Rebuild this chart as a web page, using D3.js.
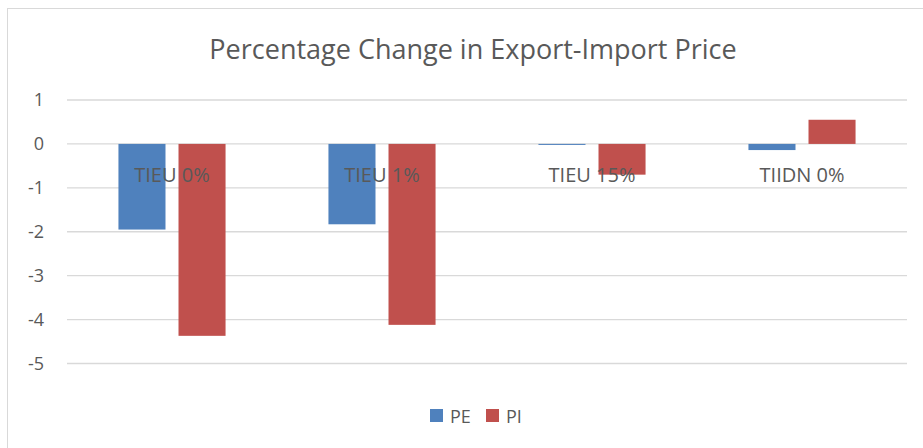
<!DOCTYPE html>
<html lang="en">
<head>
  <meta charset="UTF-8">
  <title>Percentage Change in Export-Import Price</title>
  <script src="https://d3js.org/d3.v7.min.js"></script>
  <style>
    body { margin: 0; background: #fff; }
    text { font-family: "Open Sans", sans-serif; fill: #595959; }
    .grid line { stroke: #d9d9d9; stroke-width: 1.3px; }
  </style>
</head>
<body>
  <script>
    // data
    const categories = ["TIEU 0%", "TIEU 1%", "TIEU 15%", "TIIDN 0%"];
    const seriesNames = ["PE", "PI"];
    const pe = [-1.95, -1.83, -0.02, -0.14];
    const pi = [-4.37, -4.12, -0.70, 0.55];
    const yTicks = [1, 0, -1, -2, -3, -4, -5];
    const colors = ["#4f81bd", "#c0504d"];

    const width = 923, height = 448;
    const plotLeft = 67, plotRight = 907, plotTop = 100, plotBottom = 363.5;

    const svg = d3.select("body").append("svg")
      .attr("width", width)
      .attr("height", height);

    // chart frame
    svg.append("rect")
      .attr("x", 7.5).attr("y", 8.5)
      .attr("width", width + 10).attr("height", height + 10)
      .attr("fill", "none")
      .attr("stroke", "#d9d9d9");

    const x0 = d3.scaleBand().domain(categories).range([plotLeft, plotRight])
      .paddingInner(0.49).paddingOuter(0.245);
    const x1 = d3.scaleBand().domain(seriesNames).range([0, x0.bandwidth()])
      .paddingInner(0.2167);
    const y = d3.scaleLinear().domain([-5, 1]).range([plotBottom, plotTop]);

    // gridlines
    svg.append("g").attr("class", "grid")
      .selectAll("line").data(yTicks).join("line")
      .attr("x1", plotLeft).attr("x2", plotRight)
      .attr("y1", d => y(d)).attr("y2", d => y(d));

    // y tick labels (plain hyphen, like Excel)
    const yAxis = svg.append("g")
      .attr("transform", `translate(${plotLeft - 23},0)`)
      .call(d3.axisLeft(y).tickValues(yTicks).tickSize(0).tickPadding(0).tickFormat(d => String(d)));
    yAxis.select(".domain").remove();
    yAxis.selectAll("text")
      .attr("fill", "#595959")
      .style("font-size", "18px")
      .style("font-family", "'Open Sans', sans-serif");

    const rows = categories.map((c, i) => ({ cat: c, values: [pe[i], pi[i]] }));

    const group = svg.append("g").selectAll("g").data(rows).join("g")
      .attr("transform", d => `translate(${x0(d.cat)},0)`);
    group.selectAll("rect")
      .data(d => d.values.map((v, k) => ({ s: seriesNames[k], v, k })))
      .join("rect")
      .attr("x", d => x1(d.s))
      .attr("width", x1.bandwidth())
      .attr("y", d => y(Math.max(0, d.v)))
      .attr("height", d => Math.max(1, Math.abs(y(d.v) - y(0))))
      .attr("fill", d => colors[d.k]);

    // category labels sit just below the zero line
    svg.append("g").selectAll("text").data(categories).join("text")
      .attr("x", d => x0(d) + x0.bandwidth() / 2)
      .attr("y", y(0) + 38)
      .attr("text-anchor", "middle")
      .style("font-size", "20px")
      .text(d => d);

    // title
    svg.append("text")
      .attr("x", 473).attr("y", 59)
      .attr("text-anchor", "middle")
      .style("font-size", "27px")
      .text("Percentage Change in Export-Import Price");

    // legend
    const legend = svg.append("g").attr("transform", "translate(430,409)");
    const legendX = [0, 56];
    seriesNames.forEach((s, k) => {
      const g = legend.append("g").attr("transform", `translate(${legendX[k]},0)`);
      g.append("rect").attr("width", 13).attr("height", 13).attr("fill", colors[k]);
      g.append("text").attr("x", 20).attr("y", 13.5).style("font-size", "18px").text(s);
    });
  </script>
</body>
</html>
